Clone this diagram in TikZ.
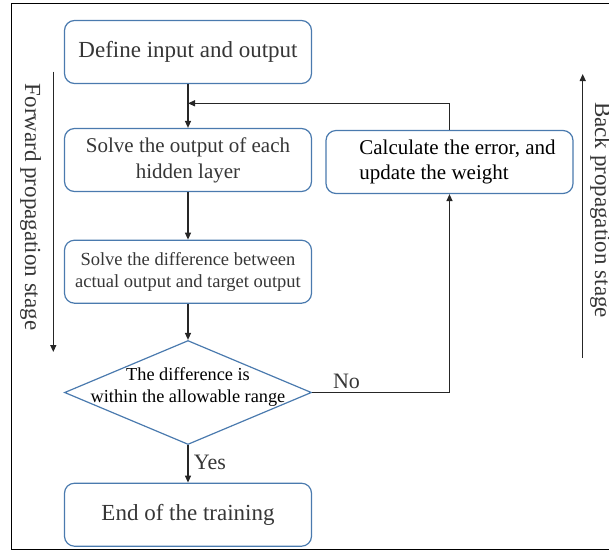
\documentclass[tikz,border=0pt]{standalone}
\usepackage{fontspec}
\setmainfont{Liberation Serif}
\newfontfamily\tnr{Liberation Serif}
\usetikzlibrary{shapes.geometric,arrows.meta}
\definecolor{boxblue}{HTML}{4A7AAE}
\definecolor{txtgray}{HTML}{363636}
\newcommand{\fsz}[2]{\tnr\fontsize{#1}{#2}\selectfont}
\tikzset{
  x=1pt,y=1pt,
  flowbox/.style={draw=boxblue, line width=1.2pt, rounded corners=10pt,
    minimum width=247pt, minimum height=63pt, inner sep=0pt, align=center,
    text=txtgray},
  decbox/.style={draw=boxblue, line width=1.2pt, shape=diamond,
    minimum width=247pt, minimum height=104pt, inner sep=0pt},
  link/.style={line width=1.2pt, draw=black!85},
  arr/.style={link, -{Triangle[length=7pt,width=6pt]}},
  stagetxt/.style={rotate=-90, anchor=base, text=txtgray,
    font=\fsz{23}{26}},
}
\begin{document}
\begin{tikzpicture}
\useasboundingbox (0,0) rectangle (609,-550);
% outer frame (right side runs past the page edge)
\draw[line width=1.4pt] (615,-3.3) -- (11.7,-3.3) -- (11.7,-549.3) -- (615,-549.3);

% flow boxes
\node[flowbox, font=\fsz{23}{27}] (def) at (188,-52) {Define input and output};
\node[flowbox, font=\fsz{21}{26}] (hid) at (188,-160) {Solve the output of each\\hidden layer};
\node[flowbox, font=\fsz{18.5}{22}] (diff) at (188,-271.7) {Solve the difference between\\actual output and target output};
\node[decbox] (dec) at (188,-392.5) {};
\node[align=center, font=\fsz{18.3}{22}, text=black] (dectxt) at (188,-387) {The difference is\\within the allowable range};
\node[flowbox, font=\fsz{23}{27}] (fin) at (188,-514.7) {End of the training};
\node[flowbox, align=left, text=black, font=\fsz{21}{25}] (upd) at (449.5,-162) {\hspace*{16pt}Calculate the error, and\\\hspace*{16pt}update the weight};

% main flow
\draw[arr] (def) -- (hid);
\draw[arr] (hid) -- (diff);
\draw[arr] (diff) -- (dec);
\draw[arr] (dec) -- node[pos=0.45, right=2pt, font=\fsz{22}{26}, text=txtgray] (yes) {Yes} (fin);

% "No" branch up to the update box
\coordinate (nocorner) at (449.5,-392.5);
\draw[arr] (dec.east) -- node[above, pos=0.25, font=\fsz{22}{26}, text=txtgray] (no) {No} (nocorner) -- (upd.south);

% feedback to the hidden-layer step
\coordinate (fbtop) at (449.5,-103.3);
\coordinate (fbjoin) at (188,-103.3);
\draw[arr] (upd.north) -- (fbtop) -- (fbjoin);

% stage arrows
\coordinate (fwdA) at (53.3,-71.7);
\coordinate (fwdB) at (53.3,-352);
\draw[arr] (fwdA) -- (fwdB);
\node[stagetxt] (fwdtxt) at (25,-207) {Forward propagation stage};

\coordinate (bckA) at (582.7,-358);
\coordinate (bckB) at (582.7,-74);
\draw[arr] (bckA) -- (bckB);
\node[stagetxt] (bcktxt) at (595,-210) {Back propagation stage};
\end{tikzpicture}
\end{document}
